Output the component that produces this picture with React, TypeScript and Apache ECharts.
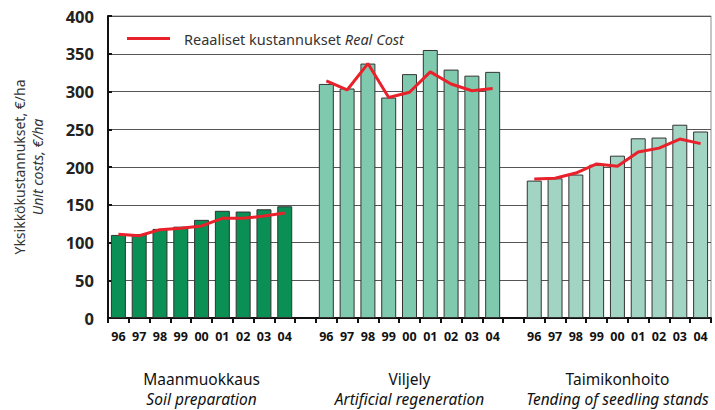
import React, { useEffect, useRef } from "react";
import * as echarts from "echarts";

const years = ["96", "97", "98", "99", "00", "01", "02", "03", "04"];
const soilPrepCost = [110, 111, 118, 121, 130, 142, 141, 144, 148];
const soilPrepReal = [111, 109, 117, 119, 122, 132, 132, 135, 139];
const regenCost = [310, 304, 337, 292, 323, 355, 329, 321, 326];
const regenReal = [314, 302, 337, 292, 299, 326, 310, 301, 304];
const tendingCost = [182, 185, 190, 203, 215, 238, 239, 256, 247];
const tendingReal = [184, 185, 192, 204, 201, 220, 225, 237, 231];
const groupFi = ["Maanmuokkaus", "Viljely", "Taimikonhoito"];
const groupEn = ["Soil preparation", "Artificial regeneration", "Tending of seedling stands"];
const groupColors = ["#0a8f55", "#7fcaae", "#a2d4c4"];
const yTicks = { min: 0, max: 400, interval: 50 };

const FONT = "Noto Sans";

export default function App() {
  const ref = useRef<HTMLDivElement>(null);
  useEffect(() => {
    if (!ref.current) return;
    document.body.style.margin = "0";
    const chart = echarts.init(ref.current, null, { renderer: "svg" });
    const groupsCost = [soilPrepCost, regenCost, tendingCost];
    const groupsReal = [soilPrepReal, regenReal, tendingReal];
    const cats: string[] = [];
    const barData: any[] = [];
    const lineData: any[] = [];
    const groupCats: string[] = [];
    groupsCost.forEach((g, gi) => {
      if (gi > 0) {
        cats.push("gap" + gi);
        barData.push("-");
        lineData.push("-");
        groupCats.push("gap" + gi);
      }
      years.forEach((y, i) => {
        cats.push("g" + gi + "-" + y);
        barData.push({ value: g[i], itemStyle: { color: groupColors[gi] } });
        lineData.push(groupsReal[gi][i]);
        groupCats.push(i === 4 ? "G" + gi : "x" + gi + i);
      });
    });

    chart.setOption({
      animation: false,
      textStyle: { fontFamily: FONT },
      grid: {
        left: 108,
        right: 4,
        top: 16,
        bottom: 92,
        show: true,
        borderColor: "#8c8c8c",
        borderWidth: 1,
      },
      legend: {
        left: 122,
        top: 26,
        icon: "rect",
        itemWidth: 43,
        itemHeight: 3,
        data: [{ name: "Reaaliset kustannukset", itemStyle: { color: "#e8212b" } }],
        formatter: () => "Reaaliset kustannukset {i|Real Cost}",
        textStyle: {
          fontFamily: FONT,
          fontSize: 14.5,
          color: "#333",
          padding: [0, 0, 0, 9],
          rich: { i: { fontStyle: "italic", fontSize: 14.5, color: "#333", fontFamily: FONT } },
        },
      },
      xAxis: [
        {
          type: "category",
          data: cats,
          boundaryGap: true,
          axisLine: { lineStyle: { color: "#111", width: 2 } },
          axisTick: { show: true, length: 5, interval: 0, lineStyle: { color: "#111", width: 2 } },
          axisLabel: {
            interval: 0,
            margin: 12,
            fontFamily: FONT,
            fontWeight: "bold",
            fontSize: 12.5,
            color: "#111",
            formatter: (v: string) => (v.startsWith("gap") ? "" : v.split("-")[1]),
          },
        },
        {
          type: "category",
          data: groupCats,
          position: "bottom",
          boundaryGap: true,
          axisLine: { show: false },
          axisTick: { show: false },
          axisLabel: {
            interval: 0,
            margin: 51,
            color: "#111",
            formatter: (v: string) => {
              if (!v.startsWith("G")) return "";
              const gi = Number(v.slice(1));
              return "{a|" + groupFi[gi] + "}\n{b|" + groupEn[gi] + "}";
            },
            rich: {
              a: { fontFamily: FONT, fontSize: 15.5, color: "#111", lineHeight: 20 },
              b: { fontFamily: FONT, fontSize: 15.5, fontStyle: "italic", color: "#111", lineHeight: 20 },
            },
          },
        },
      ],
      yAxis: {
        type: "value",
        min: yTicks.min,
        max: yTicks.max,
        interval: yTicks.interval,
        name: "{a|Yksikkökustannukset, €/ha}\n{b|Unit costs, €/ha}",
        nameLocation: "middle",
        nameRotate: 90,
        nameGap: 62,
        nameTextStyle: {
          rich: {
            a: { fontFamily: FONT, fontSize: 14, color: "#333", lineHeight: 18 },
            b: { fontFamily: FONT, fontSize: 14, fontStyle: "italic", color: "#333", lineHeight: 18 },
          },
        },
        axisLine: { show: true, lineStyle: { color: "#111", width: 2 } },
        axisTick: { show: true, inside: true, length: 4, lineStyle: { color: "#111", width: 2 } },
        axisLabel: {
          margin: 14,
          fontFamily: FONT,
          fontWeight: "bold",
          fontSize: 16.5,
          color: "#222",
        },
        splitLine: { show: true, lineStyle: { color: "#555", width: 1 } },
      },
      series: [
        {
          name: "Kustannukset",
          type: "bar",
          data: barData,
          barWidth: "72%",
          itemStyle: { borderColor: "#333", borderWidth: 1 },
        },
        {
          name: "Reaaliset kustannukset",
          type: "line",
          data: lineData,
          connectNulls: false,
          showSymbol: false,
          symbol: "none",
          lineStyle: { color: "#e8212b", width: 3 },
          itemStyle: { color: "#e8212b" },
          z: 5,
        },
      ],
    });
    return () => chart.dispose();
  }, []);
  return <div ref={ref} style={{ width: 715, height: 410 }} />;
}
